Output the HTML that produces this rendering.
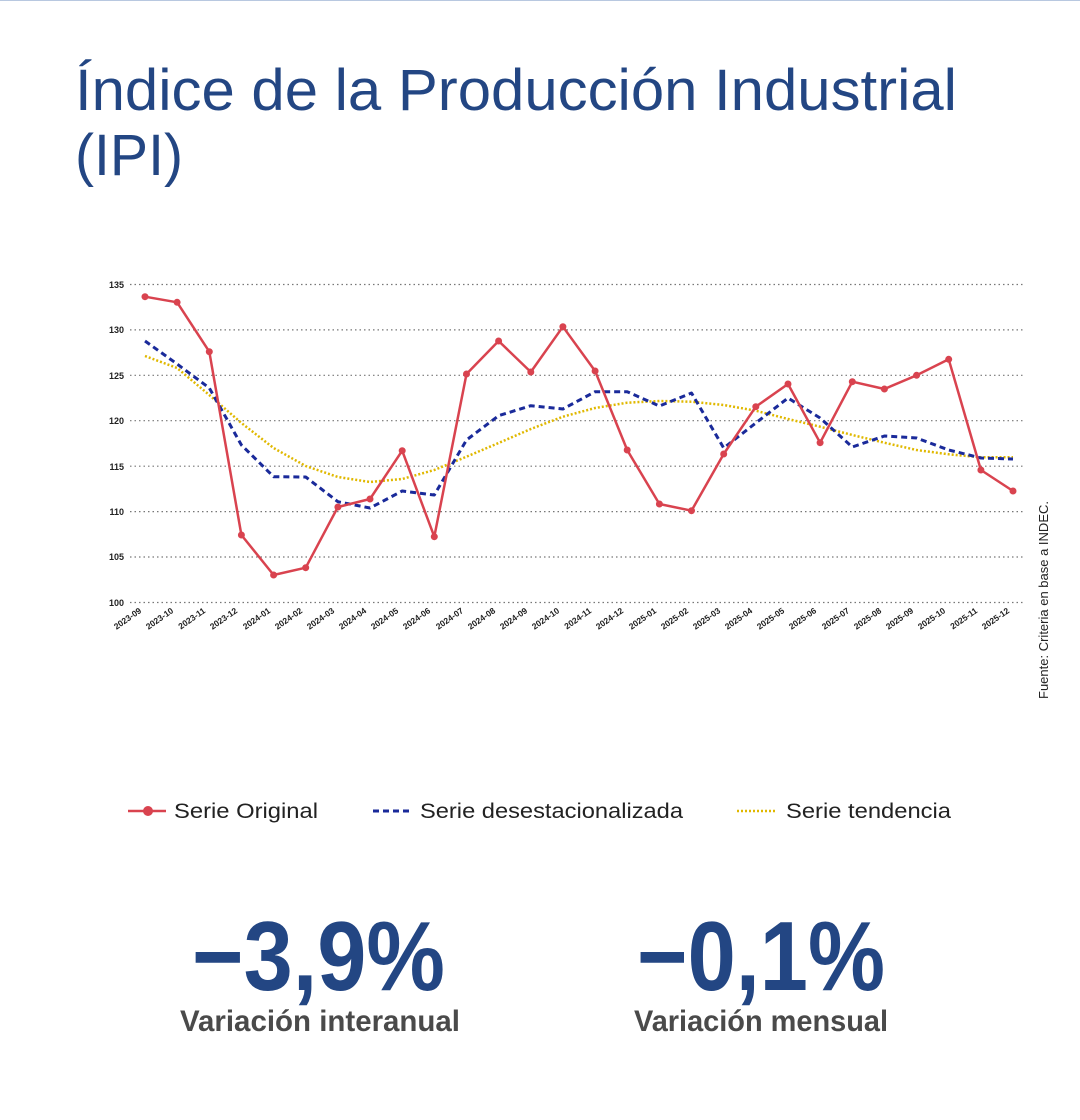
<!DOCTYPE html>
<html><head><meta charset="utf-8"><style>
html,body{margin:0;padding:0;background:#fff;}
svg{display:block;font-family:"Liberation Sans",sans-serif;}
</style></head><body>
<svg width="1080" height="1120" viewBox="0 0 1080 1120" xmlns="http://www.w3.org/2000/svg">
<rect width="1080" height="1120" fill="#fff"/>
<line x1="0" y1="0.5" x2="1080" y2="0.5" stroke="#b8c8e0" stroke-width="1"/>
<g fill="#234683" font-size="58">
<text x="75" y="110" textLength="882" lengthAdjust="spacingAndGlyphs">Índice de la Producción Industrial</text>
<text x="75" y="175" textLength="108" lengthAdjust="spacingAndGlyphs">(IPI)</text>
</g>
<g stroke="#777" stroke-width="1.2" stroke-dasharray="1.5 3">
<line x1="130" y1="284.5" x2="1025" y2="284.5"/>
<line x1="130" y1="329.9" x2="1025" y2="329.9"/>
<line x1="130" y1="375.3" x2="1025" y2="375.3"/>
<line x1="130" y1="420.7" x2="1025" y2="420.7"/>
<line x1="130" y1="466.2" x2="1025" y2="466.2"/>
<line x1="130" y1="511.6" x2="1025" y2="511.6"/>
<line x1="130" y1="557" x2="1025" y2="557"/>
<line x1="130" y1="602.5" x2="1025" y2="602.5"/>
</g>
<g font-size="9" font-weight="bold" fill="#222" text-anchor="end">
<text x="124" y="288">135</text><text x="124" y="333">130</text><text x="124" y="379">125</text><text x="124" y="424">120</text><text x="124" y="470">115</text><text x="124" y="515">110</text><text x="124" y="560">105</text><text x="124" y="606">100</text>
</g>
<g font-size="8.5" font-weight="bold" fill="#222" text-anchor="end">
<text transform="translate(142,612) rotate(-35)">2023-09</text>
<text transform="translate(174,612) rotate(-35)">2023-10</text>
<text transform="translate(206,612) rotate(-35)">2023-11</text>
<text transform="translate(238,612) rotate(-35)">2023-12</text>
<text transform="translate(271,612) rotate(-35)">2024-01</text>
<text transform="translate(303,612) rotate(-35)">2024-02</text>
<text transform="translate(335,612) rotate(-35)">2024-03</text>
<text transform="translate(367,612) rotate(-35)">2024-04</text>
<text transform="translate(399,612) rotate(-35)">2024-05</text>
<text transform="translate(431,612) rotate(-35)">2024-06</text>
<text transform="translate(464,612) rotate(-35)">2024-07</text>
<text transform="translate(496,612) rotate(-35)">2024-08</text>
<text transform="translate(528,612) rotate(-35)">2024-09</text>
<text transform="translate(560,612) rotate(-35)">2024-10</text>
<text transform="translate(592,612) rotate(-35)">2024-11</text>
<text transform="translate(624,612) rotate(-35)">2024-12</text>
<text transform="translate(657,612) rotate(-35)">2025-01</text>
<text transform="translate(689,612) rotate(-35)">2025-02</text>
<text transform="translate(721,612) rotate(-35)">2025-03</text>
<text transform="translate(753,612) rotate(-35)">2025-04</text>
<text transform="translate(785,612) rotate(-35)">2025-05</text>
<text transform="translate(817,612) rotate(-35)">2025-06</text>
<text transform="translate(850,612) rotate(-35)">2025-07</text>
<text transform="translate(882,612) rotate(-35)">2025-08</text>
<text transform="translate(914,612) rotate(-35)">2025-09</text>
<text transform="translate(946,612) rotate(-35)">2025-10</text>
<text transform="translate(978,612) rotate(-35)">2025-11</text>
<text transform="translate(1010,612) rotate(-35)">2025-12</text>
</g>
<polyline fill="none" stroke="#e0b800" stroke-width="2.5" stroke-dasharray="2 2" stroke-linejoin="round" points="145,356 177.1,368 209.3,395 241.4,423 273.6,448 305.7,466 337.9,477 370,482 402.2,479 434.3,470 466.5,456.7 498.6,443 530.8,429 562.9,416.7 595.1,408 627.2,402.7 659.4,401 691.5,401.7 723.7,405 755.8,410.7 788,419 820.1,426.7 852.3,435 884.4,442.7 916.6,450 948.7,454.3 980.9,457.3 1013,457.3"/>
<polyline fill="none" stroke="#1a2a9a" stroke-width="3" stroke-dasharray="6 4" stroke-linejoin="round" points="145,341 177.1,364 209.3,388 241.4,445 273.6,476.7 305.7,477 337.9,501.7 370,508 402.2,491 434.3,495 466.5,440 498.6,415.7 530.8,405.7 562.9,409 595.1,391.7 627.2,391.7 659.4,406 691.5,393 723.7,448 755.8,423 788,398 820.1,418 852.3,447 884.4,436 916.6,438 948.7,450 980.9,458 1013,459"/>
<g fill="#d9434f">
<polyline fill="none" stroke="#d9434f" stroke-width="2.5" stroke-linejoin="round" points="145,296.7 177.1,302.3 209.3,351.7 241.4,535 273.6,575 305.7,567.7 337.9,507 370,499 402.2,450.7 434.3,536.7 466.5,374 498.6,341 530.8,372 562.9,326.7 595.1,371 627.2,450 659.4,504 691.5,510.7 723.7,454 755.8,406.7 788,384 820.1,442.7 852.3,381.7 884.4,389 916.6,375.3 948.7,359.3 980.9,470 1013,491"/>
<circle cx="145" cy="296.7" r="3.5"/><circle cx="177.1" cy="302.3" r="3.5"/><circle cx="209.3" cy="351.7" r="3.5"/><circle cx="241.4" cy="535" r="3.5"/><circle cx="273.6" cy="575" r="3.5"/><circle cx="305.7" cy="567.7" r="3.5"/><circle cx="337.9" cy="507" r="3.5"/><circle cx="370" cy="499" r="3.5"/><circle cx="402.2" cy="450.7" r="3.5"/><circle cx="434.3" cy="536.7" r="3.5"/><circle cx="466.5" cy="374" r="3.5"/><circle cx="498.6" cy="341" r="3.5"/><circle cx="530.8" cy="372" r="3.5"/><circle cx="562.9" cy="326.7" r="3.5"/><circle cx="595.1" cy="371" r="3.5"/><circle cx="627.2" cy="450" r="3.5"/><circle cx="659.4" cy="504" r="3.5"/><circle cx="691.5" cy="510.7" r="3.5"/><circle cx="723.7" cy="454" r="3.5"/><circle cx="755.8" cy="406.7" r="3.5"/><circle cx="788" cy="384" r="3.5"/><circle cx="820.1" cy="442.7" r="3.5"/><circle cx="852.3" cy="381.7" r="3.5"/><circle cx="884.4" cy="389" r="3.5"/><circle cx="916.6" cy="375.3" r="3.5"/><circle cx="948.7" cy="359.3" r="3.5"/><circle cx="980.9" cy="470" r="3.5"/><circle cx="1013" cy="491" r="3.5"/>
</g>
<text transform="translate(1048,600) rotate(-90)" font-size="13" fill="#222" text-anchor="middle">Fuente: Criteria en base a INDEC.</text>
<g font-size="21" fill="#222">
<line x1="128" y1="811" x2="166" y2="811" stroke="#d9434f" stroke-width="2.5"/>
<circle cx="148" cy="811" r="5" fill="#d9434f"/>
<text x="174" y="818" textLength="144" lengthAdjust="spacingAndGlyphs">Serie Original</text>
<line x1="373" y1="811" x2="411" y2="811" stroke="#1a2a9a" stroke-width="3" stroke-dasharray="6 4"/>
<text x="420" y="818" textLength="263" lengthAdjust="spacingAndGlyphs">Serie desestacionalizada</text>
<line x1="737" y1="811" x2="776" y2="811" stroke="#e0b800" stroke-width="2.5" stroke-dasharray="2 2"/>
<text x="786" y="818" textLength="165" lengthAdjust="spacingAndGlyphs">Serie tendencia</text>
</g>
<g font-weight="bold">
<text x="192" y="990" font-size="98" fill="#234683" textLength="253" lengthAdjust="spacingAndGlyphs">−3,9%</text>
<text x="180" y="1031" font-size="30" fill="#4a4a4a" textLength="280" lengthAdjust="spacingAndGlyphs">Variación interanual</text>
<text x="637" y="990" font-size="98" fill="#234683" textLength="248" lengthAdjust="spacingAndGlyphs">−0,1%</text>
<text x="634" y="1031" font-size="30" fill="#4a4a4a" textLength="254" lengthAdjust="spacingAndGlyphs">Variación mensual</text>
</g>
</svg>
</body></html>
